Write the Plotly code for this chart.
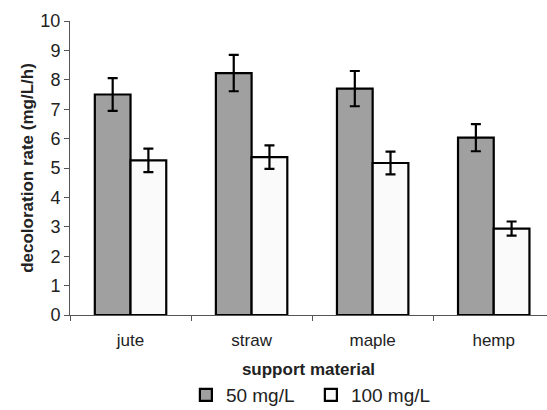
import plotly.graph_objects as go

categories = ["jute", "straw", "maple", "hemp"]
rate_50 = [7.50, 8.23, 7.70, 6.03]
err_50 = [0.56, 0.62, 0.60, 0.46]
rate_100 = [5.26, 5.37, 5.17, 2.94]
err_100 = [0.40, 0.40, 0.39, 0.24]
y_ticks = list(range(0, 11))

FONT = "Liberation Sans, Arial, Helvetica, sans-serif"

fig = go.Figure()
fig.add_trace(go.Bar(
    x=categories, y=rate_50, name="50 mg/L",
    marker=dict(color="#a0a0a0", line=dict(color="black", width=2.2)),
    error_y=dict(type="data", array=err_50, color="black", thickness=2.2, width=5),
))
fig.add_trace(go.Bar(
    x=categories, y=rate_100, name="100 mg/L",
    marker=dict(color="#fafafa", line=dict(color="black", width=2.2)),
    error_y=dict(type="data", array=err_100, color="black", thickness=2.2, width=5),
))

fig.update_layout(
    width=547, height=410,
    margin=dict(l=70, r=0, t=21, b=95, autoexpand=False),
    paper_bgcolor="white", plot_bgcolor="white",
    font=dict(family=FONT, size=17, color="#222"),
    barmode="group", bargap=0.41, bargroupgap=0,
    showlegend=True,
    legend=dict(orientation="h", x=0.505, xanchor="center", y=-0.272, yanchor="middle",
                font=dict(size=19), itemwidth=30, traceorder="normal",
                entrywidth=80),
)
fig.update_xaxes(
    type="category", range=[-0.5, 3.44], automargin=False,
    showline=True, linecolor="#555", linewidth=1,
    ticks="outside", tickson="boundaries", ticklen=5, tickcolor="#555",
    ticklabelstandoff=10,
    showgrid=False, zeroline=False,
    title=dict(text="<b>support material</b>", font=dict(size=17), standoff=13),
)
fig.update_yaxes(
    range=[0, 10], tickvals=y_ticks, automargin=False,
    showline=True, linecolor="#555", linewidth=1,
    ticks="outside", ticklen=5, tickcolor="#555",
    showgrid=False, zeroline=False,
    tickfont=dict(size=18),
    title=dict(text="<b>decoloration rate (mg/L/h)</b>", font=dict(size=17), standoff=2),
)

fig.write_html("out.html", config={"displayModeBar": False},
               post_script="document.body.style.margin='0';")
